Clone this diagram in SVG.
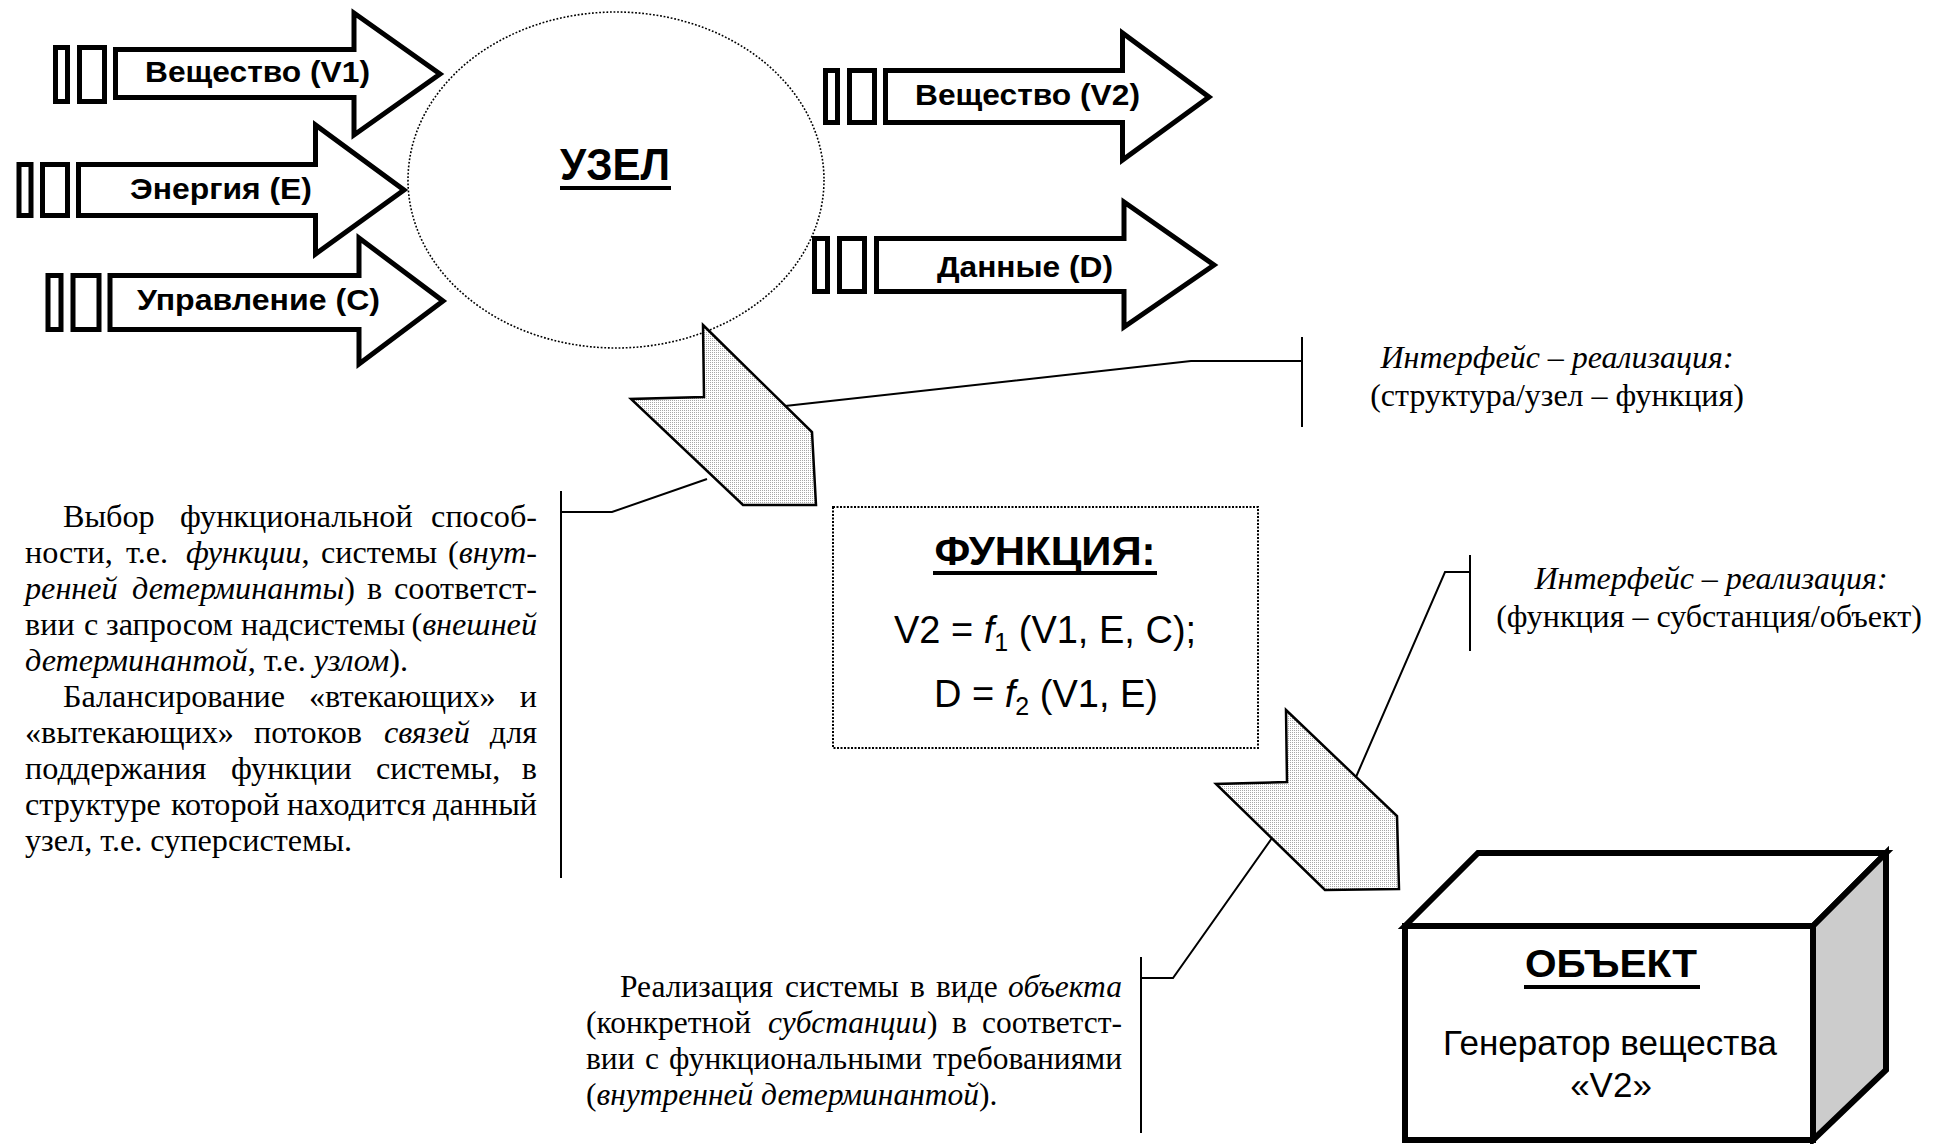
<svg xmlns="http://www.w3.org/2000/svg" width="1942" height="1144" viewBox="0 0 1942 1144">
  <style>
    .flow{fill:#fff;stroke:#000;stroke-width:5;stroke-linejoin:miter}
    .lbl{font-family:"Liberation Sans",Arial,sans-serif;font-weight:bold;font-size:30px;fill:#000}
    .ttl{font-family:"Liberation Sans",Arial,sans-serif;font-weight:bold;fill:#000}
    .frm{font-family:"Liberation Sans",Arial,sans-serif;font-size:38px;fill:#000;text-anchor:middle}
    .p{font-family:"Liberation Serif","Times New Roman",serif;font-size:31.5px;fill:#000}
    .big{font-size:32.2px}
    .e{text-anchor:end}
    .c{text-anchor:middle}
    .i{font-style:italic}
    .fat{fill:url(#dots);stroke:#000;stroke-width:2.5;stroke-linejoin:miter}
    .ln{fill:none;stroke:#000;stroke-width:2}
  </style>
  <defs>
    <pattern id="dots" width="2" height="2" patternUnits="userSpaceOnUse">
      <rect width="2" height="2" fill="#fff"/>
      <rect width="1" height="1" fill="#a8a8a8"/>
    </pattern>
  </defs>
  <rect width="1942" height="1144" fill="#fff"/>

  <!-- node boundary -->
  <g id="node-uzel">
    <ellipse cx="616" cy="180" rx="208" ry="168" fill="#fff" stroke="#000" stroke-width="1.6" stroke-dasharray="1.8 1.8"/>
    <text class="ttl" x="615" y="180" font-size="44" text-anchor="middle" textLength="110" lengthAdjust="spacingAndGlyphs">УЗЕЛ</text>
    <rect x="560" y="186" width="111" height="4"/>
  </g>

  <!-- input flows -->
  <g id="flow-v1">
    <rect class="flow" x="55.5" y="47.5" width="12" height="54"/>
    <rect class="flow" x="79.5" y="47.5" width="25" height="54"/>
    <path class="flow" d="M115.5,49.5 H354 V13 L440,74 L354,135 V97.5 H115.5 Z"/>
    <text class="lbl" x="145" y="82" textLength="225" lengthAdjust="spacingAndGlyphs">Вещество (V1)</text>
  </g>
  <g id="flow-e">
    <rect class="flow" x="19" y="164.5" width="12" height="51"/>
    <rect class="flow" x="42.5" y="164.5" width="25" height="51"/>
    <path class="flow" d="M78.5,164.5 H315.5 V125 L404,190 L315.5,254 V215.5 H78.5 Z"/>
    <text class="lbl" x="130" y="199" textLength="182" lengthAdjust="spacingAndGlyphs">Энергия (E)</text>
  </g>
  <g id="flow-c">
    <rect class="flow" x="48" y="275.5" width="13" height="54"/>
    <rect class="flow" x="73" y="275.5" width="26" height="54"/>
    <path class="flow" d="M110,275.5 H359 V238 L443,301 L359,364 V329.5 H110 Z"/>
    <text class="lbl" x="137" y="310" textLength="243" lengthAdjust="spacingAndGlyphs">Управление (C)</text>
  </g>

  <!-- output flows -->
  <g id="flow-v2">
    <rect class="flow" x="825.5" y="70.5" width="12" height="52"/>
    <rect class="flow" x="849.5" y="70.5" width="25" height="52"/>
    <path class="flow" d="M885.5,70.5 H1122.5 V33 L1209,97 L1122.5,160 V122.5 H885.5 Z"/>
    <text class="lbl" x="915" y="105" textLength="225" lengthAdjust="spacingAndGlyphs">Вещество (V2)</text>
  </g>
  <g id="flow-d">
    <rect class="flow" x="814.5" y="238.5" width="13" height="53"/>
    <rect class="flow" x="839.5" y="238.5" width="25" height="53"/>
    <path class="flow" d="M876.5,238.5 H1124 V202 L1214,265 L1124,327 V291.5 H876.5 Z"/>
    <text class="lbl" x="937" y="277" textLength="176" lengthAdjust="spacingAndGlyphs">Данные (D)</text>
  </g>

  <!-- leader lines to the annotations -->
  <g id="connectors">
    <polyline class="ln" points="785,406 1191,361 1302,361"/>
    <line class="ln" x1="1302" y1="337" x2="1302" y2="427"/>
    <polyline class="ln" points="561,512 612,512 707,479"/>
    <line class="ln" x1="561" y1="491" x2="561" y2="878"/>
    <polyline class="ln" points="1356,777 1445,572 1470,572"/>
    <line class="ln" x1="1470" y1="555" x2="1470" y2="651"/>
    <polyline class="ln" points="1141,978 1173,978 1272,838"/>
    <line class="ln" x1="1141" y1="957" x2="1141" y2="1133"/>
  </g>

  <!-- transition arrows -->
  <g id="step-node-function">
    <polygon class="fat" points="703,325 812,432 816,505 743,505 631,399 704,397"/>
  </g>
  <g id="step-function-object">
    <polygon class="fat" points="1286,710 1397,816 1399,889 1325,890 1216,784 1287,782"/>
  </g>

  <!-- function -->
  <g id="node-function">
    <rect x="833" y="507" width="425" height="241" fill="#fff" stroke="#000" stroke-width="2" stroke-dasharray="2 1.5"/>
    <text class="ttl" x="1045" y="565" font-size="40" text-anchor="middle" textLength="221" lengthAdjust="spacingAndGlyphs">ФУНКЦИЯ:</text>
    <rect x="933" y="571" width="224" height="4"/>
    <text class="frm" x="1045" y="643">V2 = <tspan font-style="italic">f</tspan><tspan font-size="25" dy="8">1</tspan><tspan dy="-8"> (V1, E, C);</tspan></text>
    <text class="frm" x="1046" y="707">D = <tspan font-style="italic">f</tspan><tspan font-size="25" dy="8">2</tspan><tspan dy="-8"> (V1, E)</tspan></text>
  </g>

  <!-- object -->
  <g id="node-object">
    <polygon points="1405,926 1478,853 1886,853 1813,926" fill="#fff" stroke="#000" stroke-width="6" stroke-linejoin="miter"/>
    <polygon points="1813,926 1886,853 1886,1070 1813,1140" fill="#cccccc" stroke="#000" stroke-width="6" stroke-linejoin="miter"/>
    <rect x="1405" y="926" width="408" height="214" fill="#fff" stroke="#000" stroke-width="6"/>
    <text class="ttl" x="1611" y="977" font-size="38" text-anchor="middle" textLength="172" lengthAdjust="spacingAndGlyphs">ОБЪЕКТ</text>
    <rect x="1524" y="985" width="176" height="4"/>
    <text x="1610" y="1055" font-family="Liberation Sans, Arial, sans-serif" font-size="35" text-anchor="middle">Генератор вещества</text>
    <text x="1611" y="1097" font-family="Liberation Sans, Arial, sans-serif" font-size="35" text-anchor="middle">«V2»</text>
  </g>

  <!-- annotations -->
  <g id="note-interface-1" class="p">
    <text class="c i" x="1557" y="368" font-size="32">Интерфейс – реализация:</text>
    <text class="c" x="1557" y="406" font-size="32">(структура/узел – функция)</text>
  </g>
  <g id="note-interface-2" class="p">
    <text class="c i" x="1711" y="589" font-size="32">Интерфейс – реализация:</text>
    <text class="c" x="1709" y="627" font-size="32">(функция – субстанция/объект)</text>
  </g>

  <g id="note-function" class="p big">
    <text x="63" y="527">Выбор</text>
    <text x="180" y="527">функциональной</text>
    <text class="e" x="537" y="527">способ-</text>

    <text x="25" y="563">ности,</text>
    <text x="126" y="563">т.е.</text>
    <text x="186" y="563"><tspan class="i">функции</tspan>,</text>
    <text x="321" y="563">системы</text>
    <text class="e" x="537" y="563">(<tspan class="i">внут-</tspan></text>

    <text class="i" x="25" y="599">ренней</text>
    <text x="132" y="599"><tspan class="i">детерминанты</tspan>)</text>
    <text x="367" y="599">в</text>
    <text class="e" x="537" y="599">соответст-</text>

    <text x="25" y="635">вии</text>
    <text x="84" y="635">с</text>
    <text x="106" y="635">запросом</text>
    <text x="241" y="635">надсистемы</text>
    <text class="e" x="537" y="635">(<tspan class="i">внешней</tspan></text>

    <text x="25" y="671"><tspan class="i">детерминантой</tspan>, т.е. <tspan class="i">узлом</tspan>).</text>

    <text x="63" y="707">Балансирование</text>
    <text x="309" y="707">«втекающих»</text>
    <text class="e" x="537" y="707">и</text>

    <text x="25" y="743">«вытекающих»</text>
    <text x="254" y="743">потоков</text>
    <text class="i" x="384" y="743">связей</text>
    <text class="e" x="537" y="743">для</text>

    <text x="25" y="779">поддержания</text>
    <text x="231" y="779">функции</text>
    <text x="376" y="779">системы,</text>
    <text class="e" x="537" y="779">в</text>

    <text x="25" y="815">структуре</text>
    <text x="171" y="815">которой</text>
    <text x="287" y="815">находится</text>
    <text class="e" x="537" y="815">данный</text>

    <text x="25" y="851">узел, т.е. суперсистемы.</text>
  </g>

  <g id="note-object" class="p">
    <text x="620" y="997">Реализация</text>
    <text x="785" y="997">системы</text>
    <text x="910" y="997">в</text>
    <text x="936" y="997">виде</text>
    <text class="e i" x="1122" y="997">объекта</text>

    <text x="586" y="1033">(конкретной</text>
    <text x="768" y="1033"><tspan class="i">субстанции</tspan>)</text>
    <text x="952" y="1033">в</text>
    <text class="e" x="1122" y="1033">соответст-</text>

    <text x="586" y="1069">вии</text>
    <text x="645" y="1069">с</text>
    <text x="669" y="1069">функциональными</text>
    <text class="e" x="1122" y="1069">требованиями</text>

    <text x="586" y="1105">(<tspan class="i">внутренней детерминантой</tspan>).</text>
  </g>
</svg>
